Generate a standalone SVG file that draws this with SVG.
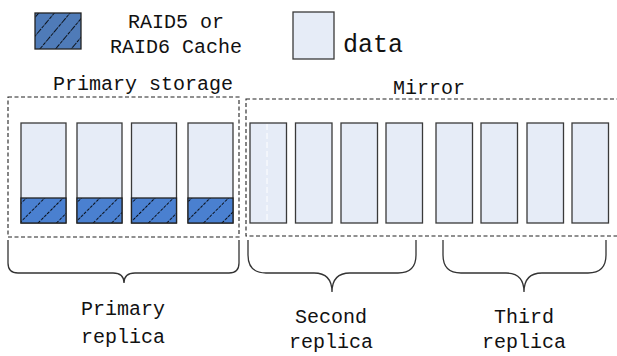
<svg xmlns="http://www.w3.org/2000/svg" width="617" height="356" viewBox="0 0 617 356">
<style>
  .t { font-family: "Liberation Mono", "DejaVu Sans Mono", monospace; font-size: 20px; fill: #111; text-anchor: middle; }
  .col { fill: #E6ECF7; stroke: #3a3a3a; stroke-width: 1.3; }
  .cache { fill: url(#hatchA); stroke: #222; stroke-width: 1.3; }
  .frame { fill: none; stroke: #222; stroke-width: 1.1; stroke-dasharray: 4 2.5; }
  .brace { fill: none; stroke: #333; stroke-width: 1.3; }
</style>
<defs>
  <pattern id="hatchA" patternUnits="userSpaceOnUse" width="13" height="13" patternTransform="translate(3,0) rotate(45)">
    <rect x="0" y="0" width="13" height="13" fill="#4A80D0"/>
    <line x1="0" y1="0" x2="0" y2="13" stroke="#000" stroke-width="1.8" stroke-dasharray="3 1.3"/>
  </pattern>
  <pattern id="hatchL" patternUnits="userSpaceOnUse" width="12" height="12" patternTransform="translate(2,0) rotate(40)">
    <rect x="0" y="0" width="12" height="12" fill="#4F7BB8"/>
    <line x1="0" y1="0" x2="0" y2="12" stroke="#000" stroke-width="1.7" stroke-dasharray="3.5 1"/>
  </pattern>
</defs>
<rect width="617" height="356" fill="#fff"/>

<g id="legend">
  <rect x="35" y="13" width="46" height="36" fill="url(#hatchL)" stroke="#222" stroke-width="1.3"/>
  <text class="t" x="176" y="28">RAID5 or</text>
  <text class="t" x="176" y="53">RAID6 Cache</text>
  <rect x="293" y="12" width="41" height="47" class="col"/>
  <text class="t" x="373" y="52" style="font-size:25px">data</text>
</g>

<g id="primary-storage">
  <rect class="frame" x="8" y="97" width="231" height="140"/>
  <text class="t" x="143" y="90">Primary storage</text>
  <g id="p1"><rect class="col" x="21" y="123" width="45" height="100"/><rect class="cache" x="21" y="198" width="45" height="25"/></g>
  <g id="p2"><rect class="col" x="77" y="123" width="45" height="100"/><rect class="cache" x="77" y="198" width="45" height="25"/></g>
  <g id="p3"><rect class="col" x="131.5" y="123" width="45" height="100"/><rect class="cache" x="131.5" y="198" width="45" height="25"/></g>
  <g id="p4"><rect class="col" x="188" y="123" width="45" height="100"/><rect class="cache" x="188" y="198" width="45" height="25"/></g>
</g>

<g id="mirror">
  <rect class="frame" x="246" y="99" width="374" height="137"/>
  <text class="t" x="429" y="94">Mirror</text>
  <g id="m1"><rect class="col" x="250" y="123" width="36.5" height="100"/><line x1="267" y1="124" x2="267" y2="222" stroke="#fff" stroke-width="1" stroke-dasharray="6 3"/></g>
  <g id="m2"><rect class="col" x="295.5" y="123" width="36.5" height="100"/></g>
  <g id="m3"><rect class="col" x="341" y="123" width="36.5" height="100"/></g>
  <g id="m4"><rect class="col" x="386" y="123" width="36.5" height="100"/></g>
  <g id="m5"><rect class="col" x="436" y="123" width="36.5" height="100"/></g>
  <g id="m6"><rect class="col" x="481" y="123" width="36.5" height="100"/></g>
  <g id="m7"><rect class="col" x="527" y="123" width="36.5" height="100"/></g>
  <g id="m8"><rect class="col" x="572" y="123" width="36.5" height="100"/></g>
</g>

<g id="braces">
  <path class="brace" d="M8,240 V263 Q8,273 18,273 H113 Q124,273 124,283 Q124,273 135,273 H229 Q239,273 239,263 V240"/>
  <path class="brace" d="M248,240 V255 Q248,273 266,273 H314 Q332,273 332,292 Q332,273 350,273 H398 Q416,273 416,255 V240"/>
  <path class="brace" d="M443,240 V255 Q443,273 461,273 H506 Q524,273 524,292 Q524,273 542,273 H588 Q606,273 606,255 V240"/>
</g>

<g id="labels">
  <text class="t" x="123" y="315">Primary</text>
  <text class="t" x="123" y="343">replica</text>
  <text class="t" x="331" y="323">Second</text>
  <text class="t" x="331" y="348">replica</text>
  <text class="t" x="524" y="323">Third</text>
  <text class="t" x="524" y="348">replica</text>
</g>
</svg>
